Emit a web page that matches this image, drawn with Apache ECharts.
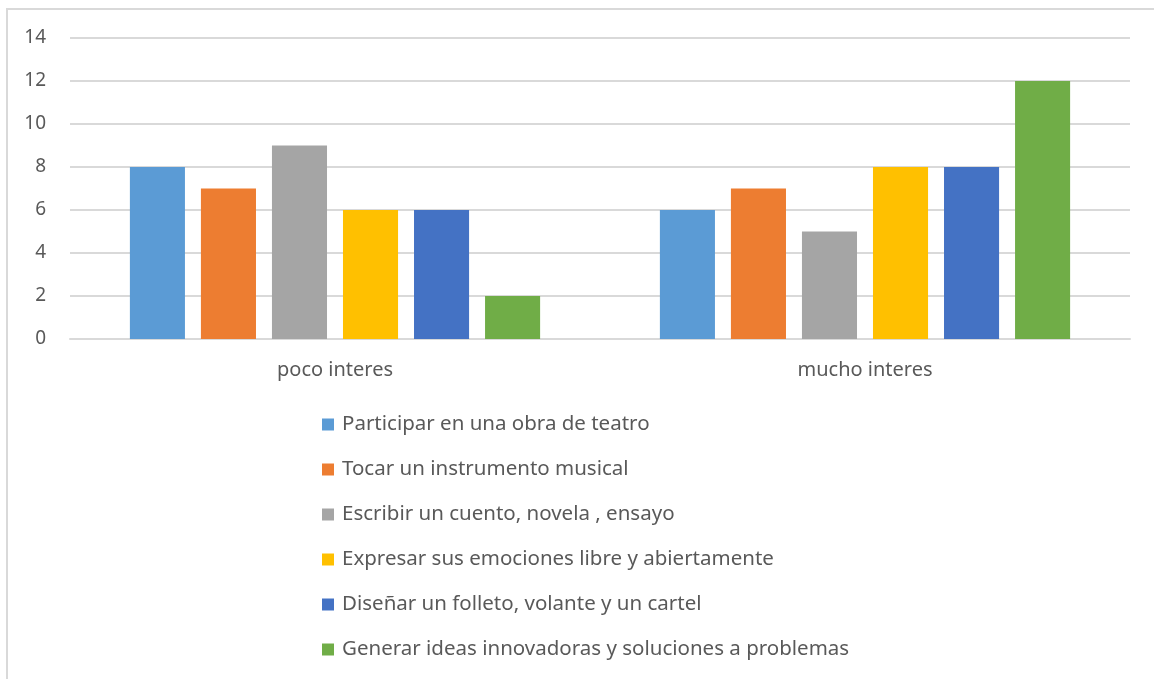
<!DOCTYPE html>
<html lang="es" style="height: 100%">
<head>
    <meta charset="UTF-8">
    <title>Interes</title>
    <script src="https://cdn.jsdelivr.net/npm/echarts@6/dist/echarts.min.js"></script>
</head>
<body style="height: 100%; margin: 0; background: #fff">
<div style="position: absolute; left: 6px; top: 8px; width: 1200px; height: 700px; border: 2px solid #d9d9d9; box-sizing: border-box"></div>
<div id="main" style="position: absolute; left: 0; top: 0; width: 1154px; height: 679px"></div>
<script>
    var categories = ['poco interes', 'mucho interes'];
    var seriesNames = [
        'Participar en una obra de teatro',
        'Tocar un instrumento musical',
        'Escribir un cuento, novela , ensayo',
        'Expresar sus emociones libre y abiertamente',
        'Diseñar un folleto, volante y un cartel',
        'Generar ideas innovadoras y soluciones a problemas'
    ];
    var teatro = [8, 6];
    var instrumento = [7, 7];
    var cuento = [9, 5];
    var emociones = [6, 8];
    var folleto = [6, 8];
    var ideas = [2, 12];
    var colors = ['#5b9bd5', '#ed7d31', '#a5a5a5', '#ffc000', '#4472c4', '#70ad47'];

    var values = [teatro, instrumento, cuento, emociones, folleto, ideas];
    var series = seriesNames.map(function (name, i) {
        return {
            name: name,
            type: 'bar',
            data: values[i],
            barGap: '29%',
            barCategoryGap: '22.6%',
            itemStyle: {color: colors[i]}
        };
    });

    var myoption = {
        animation: false,
        color: colors,
        grid: {left: 70, right: 24, top: 38, bottom: 340},
        legend: {
            orient: 'vertical',
            left: 317,
            top: 409,
            itemWidth: 12,
            itemHeight: 12,
            itemGap: 24,
            icon: 'rect',
            textStyle: {fontFamily: 'Noto Sans', fontSize: 20.5, color: '#595959', padding: [0, 0, 0, 3]},
            data: seriesNames
        },
        xAxis: {
            type: 'category',
            data: categories,
            axisTick: {show: false},
            axisLine: {lineStyle: {color: '#d9d9d9', width: 2}},
            axisLabel: {fontFamily: 'Noto Sans', fontSize: 20, color: '#595959', margin: 21}
        },
        yAxis: {
            type: 'value',
            min: 0,
            max: 14,
            interval: 2,
            axisLine: {show: false},
            axisTick: {show: false},
            splitLine: {lineStyle: {color: '#d9d9d9', width: 2}},
            axisLabel: {fontFamily: 'Noto Sans', fontSize: 19, color: '#595959', margin: 24}
        },
        series: series
    };
    var myChart = echarts.init(document.getElementById('main'));
    myChart.setOption(myoption);
</script>
</body>
</html>
